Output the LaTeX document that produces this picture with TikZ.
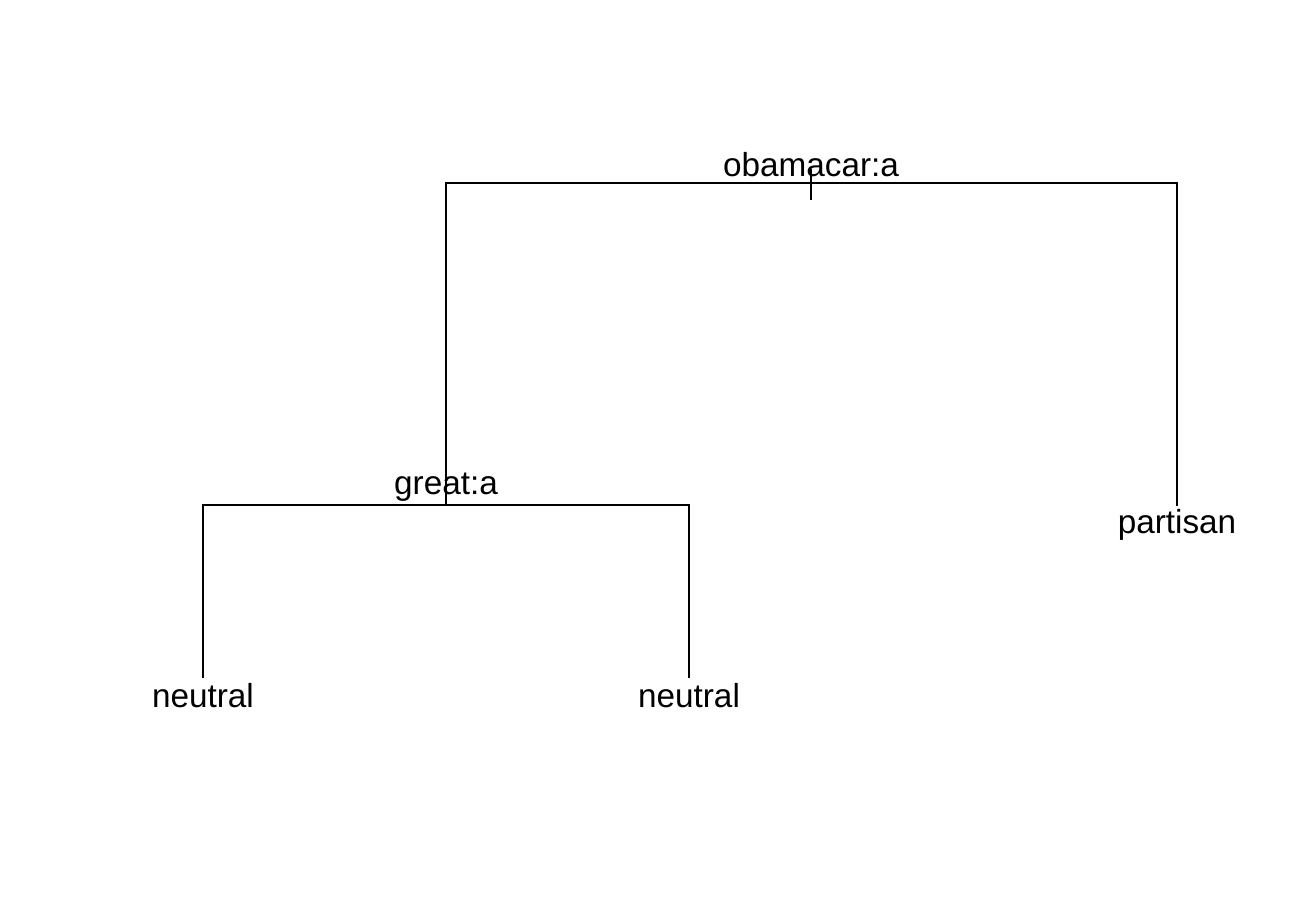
\documentclass[tikz,border=0pt]{standalone}
\usepackage{fontspec}
\setmainfont{Liberation Sans}
\begin{document}
\begin{tikzpicture}[x=1pt,y=-1pt,
  lbl/.style={inner sep=0pt,anchor=base,font=\fontsize{33.3}{38}\selectfont},
  edge/.style={line width=1.8pt,line cap=rect}]
\useasboundingbox (0,0) rectangle (1300,900);
\fill[white] (0,0) rectangle (1300,900);
% junction coordinates
\coordinate (r) at (811,183);
\coordinate (rtop) at (811,170);
\coordinate (rbot) at (811,199);
\coordinate (rl) at (446,183);
\coordinate (rr) at (1177,183);
\coordinate (g) at (446,505);
\coordinate (gl) at (203,505);
\coordinate (gr) at (689,505);
\coordinate (pend) at (1177,505);
\coordinate (n1end) at (203,677);
\coordinate (n2end) at (689,677);
% labels
\node[lbl] (root) at (811,176) {obamacar:a};
\node[lbl] (great) at (446,494) {great:a};
\node[lbl] (part) at (1177,533) {partisan};
\node[lbl] (n1) at (203,707) {neutral};
\node[lbl] (n2) at (689,707) {neutral};
% edges
\draw[edge] (rtop) -- (rbot);
\draw[edge] (rr) -- (rl) -- (g);
\draw[edge] (rr) -- (pend);
\draw[edge] (gl) -- (gr);
\draw[edge] (gl) -- (n1end);
\draw[edge] (gr) -- (n2end);
\end{tikzpicture}
\end{document}
